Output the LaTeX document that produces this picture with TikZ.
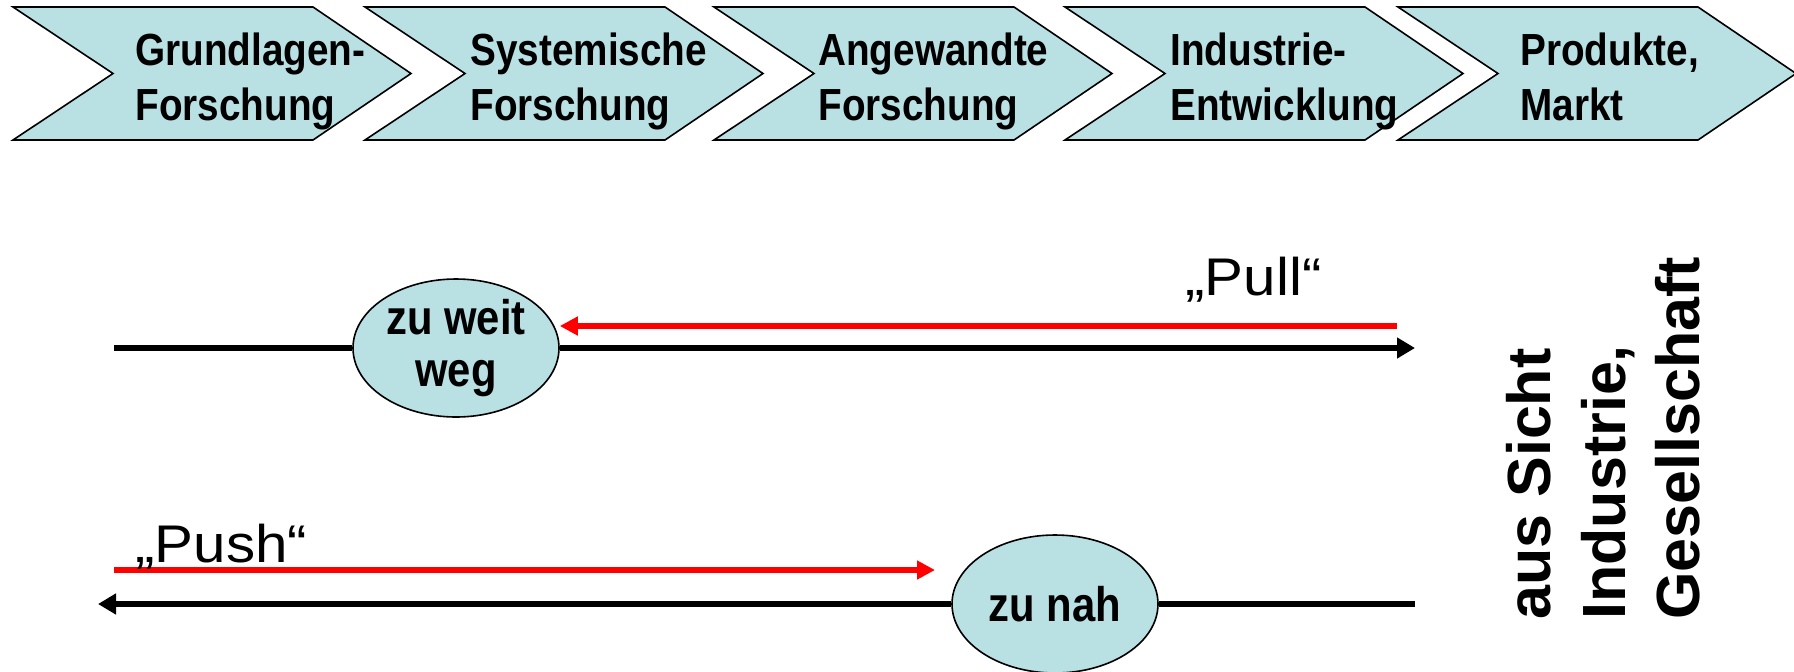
\documentclass[tikz,border=0pt]{standalone}
\usepackage{fontspec}
\setmainfont{Liberation Sans}
\newfontfamily\boxfont[FakeStretch=0.86]{Liberation Sans}
\newfontfamily\quotefont[FakeStretch=1.1]{Liberation Sans}
\usetikzlibrary{shapes.geometric, arrows.meta}
\definecolor{boxblue}{RGB}{185,224,227}

\begin{document}
\begin{tikzpicture}[
            x=0.5pt, y=-0.5pt,
            chevron/.style={
                    fill=boxblue,
                    draw=black,
                    line width=0.8pt
                },
            steptext/.style={
                    anchor=north west,
                    inner sep=0pt,
                    align=left,
                    font=\boxfont\bfseries\fontsize{22.5pt}{27.5pt}\selectfont
                },
            spot/.style={
                    ellipse,
                    fill=boxblue,
                    draw=black,
                    line width=0.8pt,
                    minimum width=103pt,
                    minimum height=69pt,
                    inner sep=0pt,
                    align=center,
                    font=\boxfont\bfseries\fontsize{24.3pt}{26pt}\selectfont
                },
            quote/.style={
                    anchor=base west,
                    inner sep=0pt,
                    font=\quotefont\fontsize{26.5pt}{30pt}\selectfont
                },
            axis/.style={line width=2.8pt},
            axisarrow/.style={
            axis,
            -{Triangle[length=9pt,width=10pt]}
            },
            redarrow/.style={
            line width=2.8pt,
            red,
            -{Triangle[length=9pt,width=9pt]}
            }
            ]

            \useasboundingbox (0,0) rectangle (1794,671);

            % Kette der Stufen
            \foreach \x/\tx/\name/\txt in {
                    13/135/grund/{Grundlagen-\\Forschung},
                    365/470/system/{Systemische\\Forschung},
                    714/818/angew/{Angewandte\\Forschung},
                    1065/1170/indus/{Industrie-\\Entwicklung},
                    1398/1520/markt/{Produkte,\\Markt}} {
                    \draw [chevron] (\x,7) -- ++(300,0) -- ++(98,66.5) -- ++(-98,66.5)
                    -- ++(-300,0) -- ++(100,-66.5) -- cycle;
                    \node (\name) [steptext] at (\tx,32) {\txt};
                }

            % Ellipsen
            \node (weit) [spot] at (456,348) {zu weit\\weg};
            \node (nah) [spot] at (1055,604) {zu nah};

            % Endpunkte
            \coordinate (pullL) at (114,348);
            \coordinate (pullR) at (1415,348);
            \coordinate (pullred) at (1397,326);
            \coordinate (pushL) at (98,604);
            \coordinate (pushR) at (1415,604);
            \coordinate (pushredL) at (114,570);
            \coordinate (pushredR) at (935,570);

            % Linien und Pfeile
            \draw [axis] (pullL) -- (weit);
            \draw [axisarrow] (weit) -- (pullR);
            \draw [redarrow] (pullred) -- (weit.east |- pullred);

            \draw [axis] (pushR) -- (nah);
            \draw [axisarrow] (nah) -- (pushL);
            \draw [redarrow] (pushredL) -- (pushredR);

            % Beschriftungen
            \node (pull) [quote] at (1185,295) {„Pull“};
            \node (push) [quote] at (135,562) {„Push“};

            \node (sicht) [rotate=90, anchor=north west, inner sep=0pt, align=left,
                font=\bfseries\fontsize{30.5pt}{37.25pt}\selectfont]
                at (1506,620) {aus Sicht\\Industrie,\\Gesellschaft};

        \end{tikzpicture}
\end{document}
